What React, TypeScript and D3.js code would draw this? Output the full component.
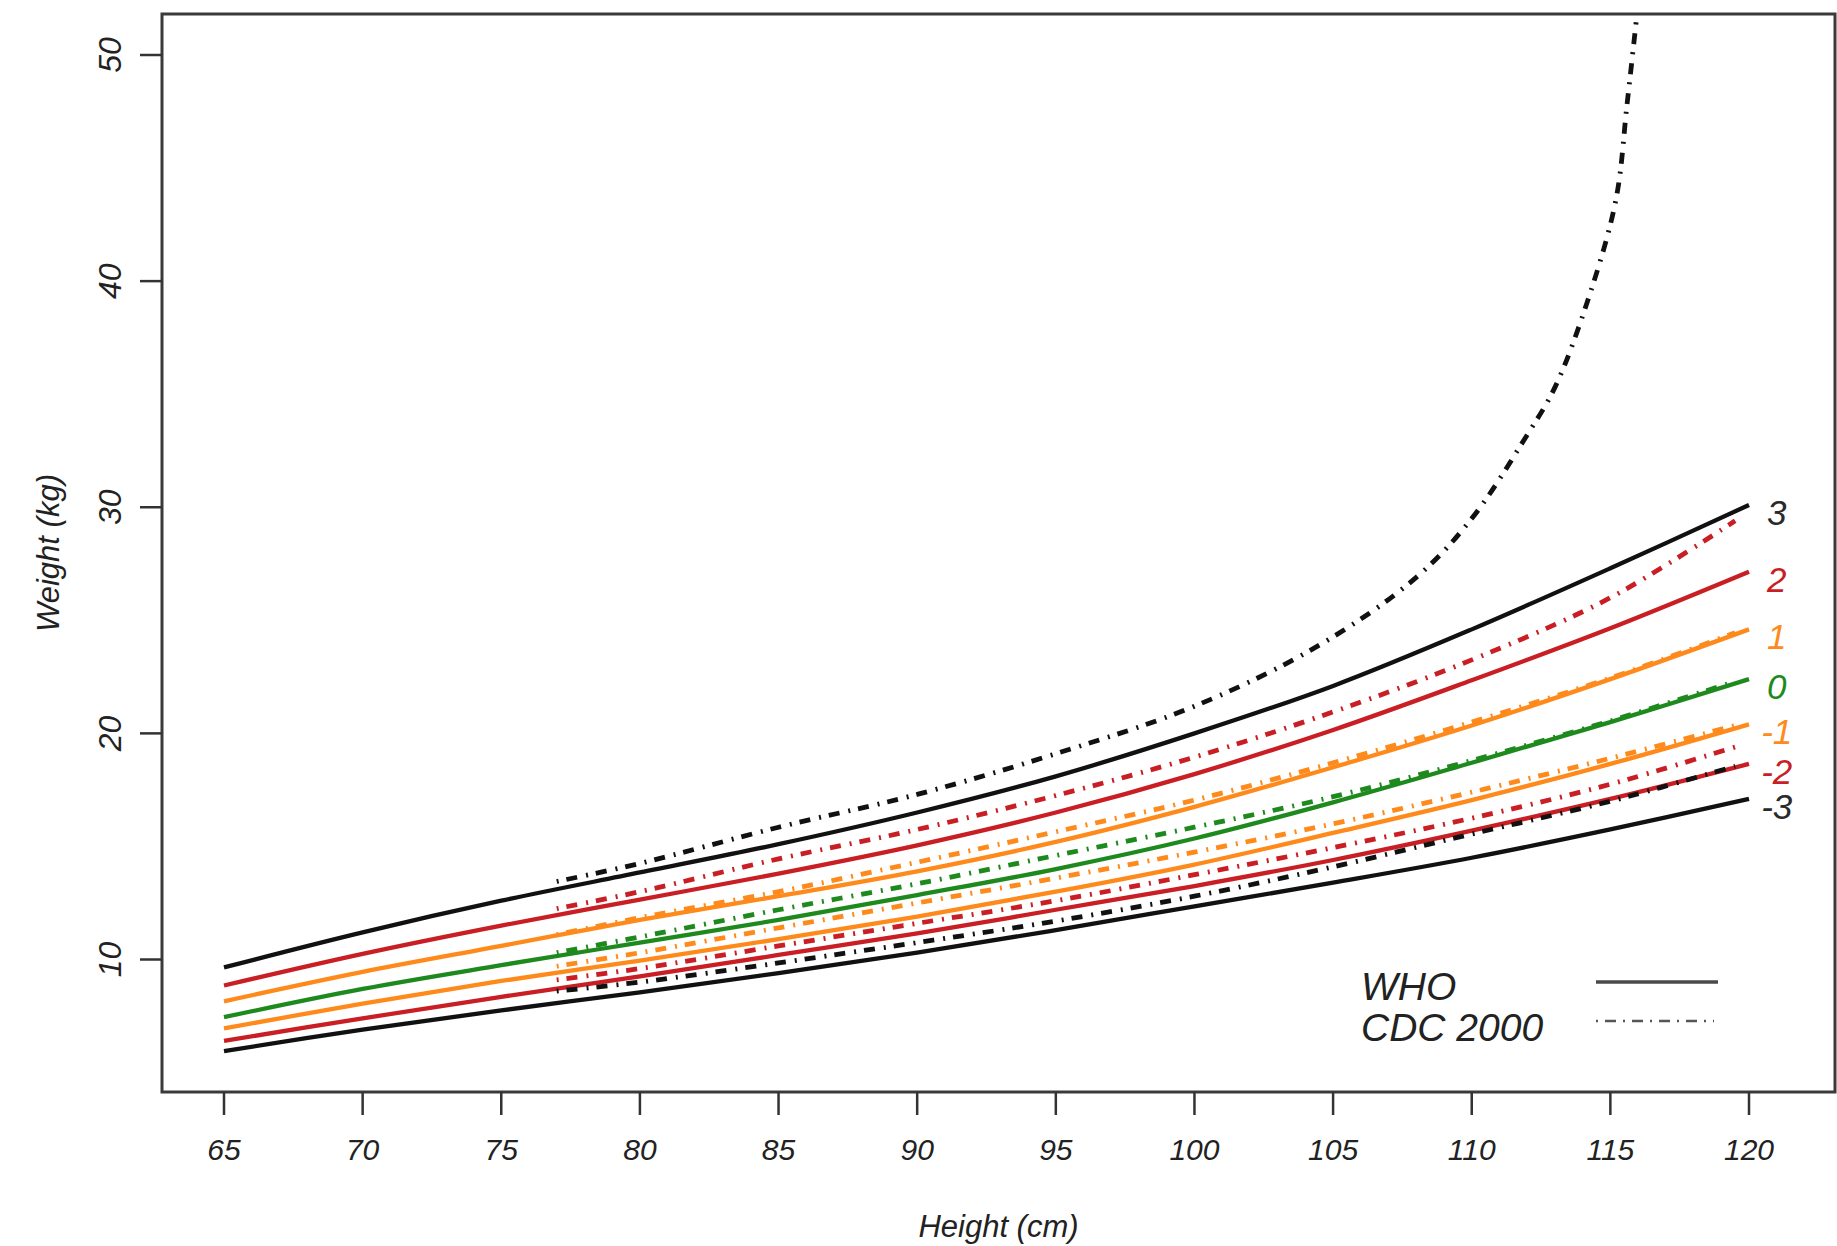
import React from "react";
import * as d3 from "d3";

// WHO weight-for-height z-score curves (kg)
const whoHeights = [65, 70, 75, 80, 85, 90, 95, 100, 105, 110, 115, 120];
const whoP3 = [9.65, 11.2, 12.6, 13.85, 15.1, 16.5, 18.1, 20.0, 22.1, 24.6, 27.3, 30.1];
const whoP2 = [8.85, 10.25, 11.5, 12.65, 13.8, 15.05, 16.5, 18.2, 20.15, 22.35, 24.65, 27.15];
const whoP1 = [8.15, 9.45, 10.6, 11.75, 12.8, 13.9, 15.2, 16.75, 18.5, 20.35, 22.4, 24.6];
const who0 = [7.45, 8.7, 9.75, 10.75, 11.75, 12.85, 14.0, 15.35, 16.95, 18.7, 20.5, 22.4];
const whoM1 = [6.95, 8.05, 9.05, 9.95, 10.9, 11.9, 13.0, 14.2, 15.6, 17.05, 18.65, 20.4];
const whoM2 = [6.4, 7.4, 8.35, 9.25, 10.2, 11.15, 12.2, 13.25, 14.4, 15.7, 17.1, 18.65];
const whoM3 = [5.95, 6.9, 7.75, 8.55, 9.4, 10.3, 11.3, 12.35, 13.4, 14.5, 15.75, 17.1];

// CDC 2000 curves
const cdcHeights = [77, 80, 85, 90, 95, 100, 105, 110, 115, 119.5];
const cdcP2 = [12.25, 13.0, 14.45, 15.75, 17.25, 18.95, 20.95, 23.25, 26.0, 29.4];
const cdcP1 = [11.1, 11.85, 13.0, 14.3, 15.65, 17.05, 18.7, 20.5, 22.45, 24.45];
const cdc0 = [10.3, 11.0, 12.2, 13.35, 14.6, 15.85, 17.2, 18.8, 20.55, 22.3];
const cdcM1 = [9.7, 10.3, 11.4, 12.5, 13.6, 14.75, 16.0, 17.4, 18.9, 20.35];
const cdcM2 = [9.1, 9.6, 10.6, 11.6, 12.6, 13.75, 14.95, 16.25, 17.75, 19.4];
const cdcM3 = [8.6, 9.0, 9.85, 10.75, 11.7, 12.8, 14.1, 15.55, 17.0, 18.55];
// +3 CDC runs off the top
const cdcP3Heights = [77, 80, 85, 90, 95, 100, 104.5, 108, 110, 112, 113, 114.2, 115.2, 115.6, 115.95, 116.1];
const cdcP3 = [13.45, 14.25, 15.85, 17.3, 19.1, 21.2, 23.9, 26.9, 29.5, 33.2, 35.3, 39.2, 43.6, 47.8, 51.7, 53.5];

const zLabels = ["3", "2", "1", "0", "-1", "-2", "-3"];
const xTicks = [65, 70, 75, 80, 85, 90, 95, 100, 105, 110, 115, 120];
const yTicks = [10, 20, 30, 40, 50];

const BLACK = "#111111";
const RED = "#c81e24";
const ORANGE = "#ff8a1c";
const GREEN = "#1e8a1e";
const zColors = [BLACK, RED, ORANGE, GREEN, ORANGE, RED, BLACK];

const FONT = "'Liberation Sans', Arial, Helvetica, sans-serif";
const DOTDASH = "2,8,11,9";

export default function App() {
  const width = 1837;
  const height = 1246;
  const frame = { left: 162, right: 1835, top: 14, bottom: 1092 };

  const x = d3.scaleLinear().domain([65, 120]).range([224, 1749]);
  const y = d3.scaleLinear().domain([10, 50]).range([959.5, 55]);

  const line = d3
    .line<[number, number]>()
    .x(d => x(d[0]))
    .y(d => y(d[1]))
    .curve(d3.curveCatmullRom.alpha(0.5));

  const whoValues = [whoP3, whoP2, whoP1, who0, whoM1, whoM2, whoM3];
  const cdcValues = [cdcP2, cdcP1, cdc0, cdcM1, cdcM2, cdcM3];
  const cdcColors = zColors.slice(1);

  const zip = (xs: number[], ys: number[]) => xs.map((h, i) => [h, ys[i]] as [number, number]);

  return (
    <svg
      width={width}
      height={height}
      style={{ position: "absolute", left: 0, top: 0, background: "#fff" }}
      fontFamily={FONT}
    >
      <defs>
        <clipPath id="plotArea">
          <rect
            x={frame.left}
            y={frame.top}
            width={frame.right - frame.left}
            height={frame.bottom - frame.top}
          />
        </clipPath>
      </defs>

      <g clipPath="url(#plotArea)" fill="none" strokeLinejoin="round">
        {whoValues.map((vals, i) => (
          <path key={"who" + i} d={line(zip(whoHeights, vals)) || ""} stroke={zColors[i]} strokeWidth={4.3} />
        ))}
        {cdcValues.map((vals, i) => (
          <path
            key={"cdc" + i}
            d={line(zip(cdcHeights, vals)) || ""}
            stroke={cdcColors[i]}
            strokeWidth={4.8}
            strokeDasharray={DOTDASH}
          />
        ))}
        <path
          d={line(zip(cdcP3Heights, cdcP3)) || ""}
          stroke={BLACK}
          strokeWidth={4.8}
          strokeDasharray={DOTDASH}
        />
      </g>

      {/* z-score labels at line ends */}
      {whoValues.map((vals, i) => (
        <text
          key={"lab" + i}
          x={x(121)}
          y={y(vals[vals.length - 1]) + 20}
          textAnchor="middle"
          fontSize={35}
          fontStyle="italic"
          fill={zColors[i] === BLACK ? "#2a2a2a" : zColors[i]}
        >
          {zLabels[i]}
        </text>
      ))}

      {/* frame */}
      <rect
        x={frame.left}
        y={frame.top}
        width={frame.right - frame.left}
        height={frame.bottom - frame.top}
        fill="none"
        stroke="#3a3a3a"
        strokeWidth={3}
      />

      {/* x axis */}
      {xTicks.map(t => (
        <g key={"xt" + t}>
          <line x1={x(t)} x2={x(t)} y1={frame.bottom} y2={frame.bottom + 23} stroke="#333" strokeWidth={2.5} />
          <text x={x(t)} y={1160} textAnchor="middle" fontSize={30} fontStyle="italic" fill="#222">
            {t}
          </text>
        </g>
      ))}
      <text x={(frame.left + frame.right) / 2} y={1237} textAnchor="middle" fontSize={31} fontStyle="italic" fill="#222">
        Height (cm)
      </text>

      {/* y axis */}
      {yTicks.map(t => (
        <g key={"yt" + t}>
          <line x1={frame.left - 22} x2={frame.left} y1={y(t)} y2={y(t)} stroke="#333" strokeWidth={2.5} />
          <text
            transform={`translate(121,${y(t)}) rotate(-90)`}
            textAnchor="middle"
            fontSize={32}
            fontStyle="italic"
            fill="#222"
          >
            {t}
          </text>
        </g>
      ))}
      <text
        transform={`translate(59,${(frame.top + frame.bottom) / 2}) rotate(-90)`}
        textAnchor="middle"
        fontSize={31}
        fontStyle="italic"
        fill="#222"
      >
        Weight (kg)
      </text>

      {/* legend */}
      <g>
        <text x={1361} y={1000} fontSize={39} fontStyle="italic" fill="#222">WHO</text>
        <text x={1361} y={1041} fontSize={39} fontStyle="italic" fill="#222">CDC 2000</text>
        <line x1={1596} x2={1718} y1={982} y2={982} stroke="#4a4a4a" strokeWidth={3.5} />
        <line x1={1596} x2={1714} y1={1021} y2={1021} stroke="#555" strokeWidth={2.5} strokeDasharray="2,7,11,7" />
      </g>
    </svg>
  );
}
